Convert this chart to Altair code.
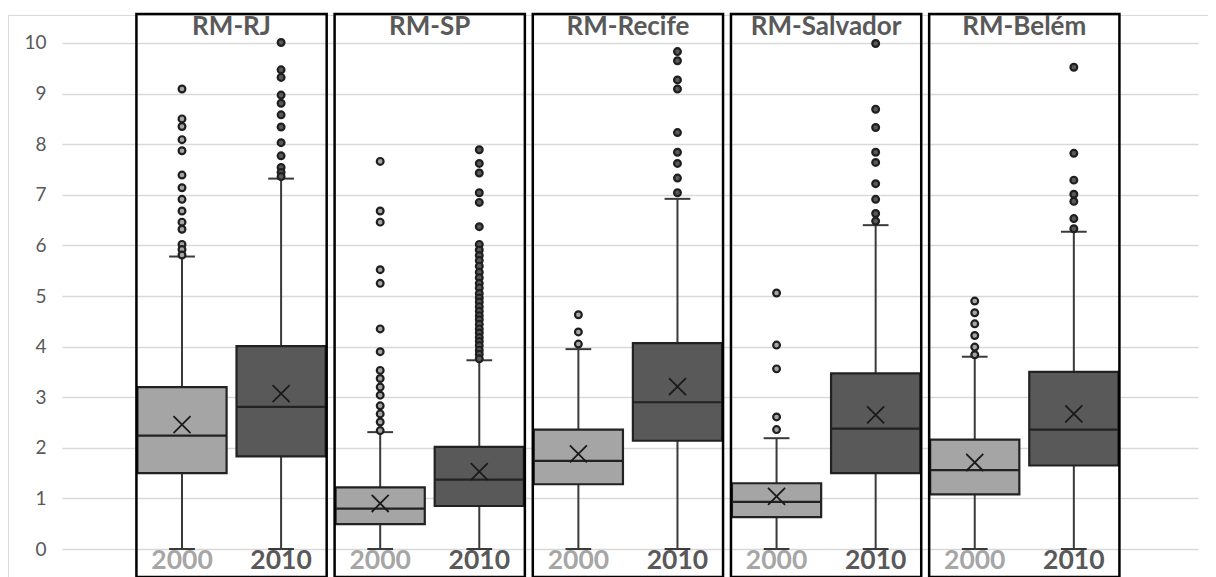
import altair as alt
import pandas as pd

# ---------------- data ----------------
cities = ["RM-RJ", "RM-SP", "RM-Recife", "RM-Salvador", "RM-Belém"]
years = ["2000", "2010"]

# order: RJ2000, RJ2010, SP2000, SP2010, Recife2000, Recife2010, Salvador2000, Salvador2010, Belém2000, Belém2010
whisk_low = [0, 0, 0, 0, 0, 0, 0, 0, 0, 0]
q1 = [1.50, 1.83, 0.49, 0.85, 1.28, 2.14, 0.63, 1.50, 1.08, 1.65]
median = [2.24, 2.81, 0.80, 1.37, 1.74, 2.90, 0.93, 2.38, 1.56, 2.36]
q3 = [3.20, 4.01, 1.22, 2.02, 2.36, 4.07, 1.30, 3.47, 2.16, 3.50]
whisk_high = [5.78, 7.32, 2.31, 3.73, 3.95, 6.92, 2.19, 6.40, 3.80, 6.27]
mean = [2.46, 3.07, 0.90, 1.53, 1.88, 3.21, 1.04, 2.65, 1.71, 2.67]

out_rj_2000 = [9.09, 8.50, 8.35, 8.09, 7.87, 7.39, 7.14, 6.91, 6.68, 6.46, 6.32, 6.02, 5.92, 5.81]
out_rj_2010 = [10.01, 9.47, 9.32, 8.97, 8.81, 8.58, 8.34, 8.03, 7.77, 7.54, 7.44, 7.36]
out_sp_2000 = [7.66, 6.68, 6.46, 5.52, 5.25, 4.35, 3.90, 3.53, 3.37, 3.20, 3.04, 2.83, 2.67, 2.51, 2.34]
out_sp_2010 = [7.89, 7.62, 7.43, 7.04, 6.85, 6.37, 6.02, 5.91, 5.80, 5.70, 5.59, 5.47, 5.36,
               5.25, 5.16, 5.05, 4.96, 4.88, 4.79, 4.70, 4.61, 4.53, 4.44, 4.35, 4.27, 4.18,
               4.10, 4.02, 3.93, 3.85, 3.76]
out_recife_2000 = [4.63, 4.29, 4.05]
out_recife_2010 = [9.83, 9.65, 9.27, 9.09, 8.23, 7.84, 7.62, 7.33, 7.04]
out_salvador_2000 = [5.06, 4.03, 3.56, 2.61, 2.36]
out_salvador_2010 = [9.99, 8.69, 8.33, 7.84, 7.64, 7.22, 6.91, 6.63, 6.48]
out_belem_2000 = [4.90, 4.67, 4.45, 4.22, 3.99, 3.84]
out_belem_2010 = [9.52, 7.82, 7.29, 7.01, 6.87, 6.53, 6.33]

outliers = [out_rj_2000, out_rj_2010, out_sp_2000, out_sp_2010, out_recife_2000,
            out_recife_2010, out_salvador_2000, out_salvador_2010, out_belem_2000, out_belem_2010]

yticks = [0, 1, 2, 3, 4, 5, 6, 7, 8, 9, 10]

# ---------------- layout constants ----------------
BOX_HALF = 0.45
CAP_HALF = 0.13
PANEL_HALF = 0.96
Y_TOP, Y_BOT = 10.573, -0.553
TITLE_Y = 10.15
YEAR_Y = -0.395

fill_colors = ["#a5a5a5", "#595959"]
label_colors = ["#a6a6a6", "#595959"]
FONT = "Lato"

# ---------------- tables ----------------
rows, orows = [], []
for i, c in enumerate(cities):
    for j, yv in enumerate(years):
        k = 2 * i + j
        rows.append(dict(city=c, year=yv, pos=k, lo=whisk_low[k], q1=q1[k], med=median[k],
                         q3=q3[k], hi=whisk_high[k], mean=mean[k],
                         bl=k - BOX_HALF, br=k + BOX_HALF, cl=k - CAP_HALF, cr=k + CAP_HALF,
                         ly=YEAR_Y))
        for v in outliers[k]:
            orows.append(dict(city=c, year=yv, pos=k, val=v))
box = pd.DataFrame(rows)
outs = pd.DataFrame(orows)
panels = pd.DataFrame(dict(city=cities, mid=[2 * i + 0.5 for i in range(len(cities))]))
panels["l"] = panels["mid"] - PANEL_HALF
panels["r"] = panels["mid"] + PANEL_HALF
panels["top"] = Y_TOP
panels["bot"] = Y_BOT
panels["ty"] = TITLE_Y

xs = alt.Scale(domain=[-1.211, 10.253], nice=False, zero=False)
ys = alt.Scale(domain=[Y_BOT, Y_TOP], nice=False, zero=False)
yaxis = alt.Axis(values=yticks, grid=True, gridColor="#d9d9d9", gridWidth=1.3, domain=False,
                 ticks=False, labelPadding=16, labelFont=FONT, labelFontSize=19,
                 labelColor="#595959", title=None, format="d")


def X(f):
    return alt.X(f, type="quantitative", scale=xs, axis=None)


def Y(f):
    return alt.Y(f, type="quantitative", scale=ys, axis=yaxis)


fill_enc = alt.Fill("year:N", scale=alt.Scale(domain=years, range=fill_colors), legend=None)

whisk = alt.Chart(box).mark_rule(color="#3a3a3a", strokeWidth=2).encode(
    x=X("pos"), y=Y("lo"), y2="hi")
cap_lo = alt.Chart(box).mark_rule(color="#3a3a3a", strokeWidth=2).encode(
    x=X("cl"), x2="cr", y=Y("lo"))
cap_hi = alt.Chart(box).mark_rule(color="#3a3a3a", strokeWidth=2).encode(
    x=X("cl"), x2="cr", y=Y("hi"))
boxes = alt.Chart(box).mark_rect(stroke="#222222", strokeWidth=2.2).encode(
    x=X("bl"), x2="br", y=Y("q1"), y2="q3", fill=fill_enc)
meds = alt.Chart(box).mark_rule(color="#222222", strokeWidth=2.2).encode(
    x=X("bl"), x2="br", y=Y("med"))
means = alt.Chart(box).mark_point(shape="M-1,-1L1,1M-1,1L1,-1", size=290, filled=False,
                                   stroke="#1a1a1a", strokeWidth=1.8, opacity=1).encode(
    x=X("pos"), y=Y("mean"))
pts = alt.Chart(outs).mark_point(shape="circle", size=46, filled=True, stroke="#1f1f1f",
                                 strokeWidth=2.2, opacity=1).encode(
    x=X("pos"), y=Y("val"), fill=fill_enc)
prect = alt.Chart(panels).mark_rect(filled=False, stroke="black", strokeWidth=2.5).encode(
    x=X("l"), x2="r", y=Y("top"), y2="bot")
ptitle = alt.Chart(panels).mark_text(font=FONT, fontSize=26, fontWeight="bold", color="#595959",
                                     baseline="alphabetic", align="center").encode(
    x=X("mid"), y=Y("ty"), text="city:N")
ylab = alt.Chart(box).mark_text(font=FONT, fontSize=26.5, fontWeight="bold",
                                baseline="alphabetic", align="center").encode(
    x=X("pos"), y=Y("ly"), text="year:N",
    color=alt.Color("year:N", scale=alt.Scale(domain=years, range=label_colors), legend=None))
border = alt.Chart(pd.DataFrame({"a": [0]})).mark_rect(filled=False, stroke="#d9d9d9",
                                                      strokeWidth=1).encode(
    x=alt.value(-53.5), x2=alt.value(1160), y=alt.value(1.5), y2=alt.value(700))

chart = alt.layer(border, whisk, cap_lo, cap_hi, boxes, meds, means, pts, prect, ptitle, ylab).properties(
    width=1136, height=563,
    autosize=alt.AutoSizeParams(type="none"),
    padding={"left": 54, "top": 6, "right": 10, "bottom": 0},
    background="white",
).configure_view(strokeWidth=0)

chart.save("out.html", embed_options={"renderer": "svg", "actions": False})
